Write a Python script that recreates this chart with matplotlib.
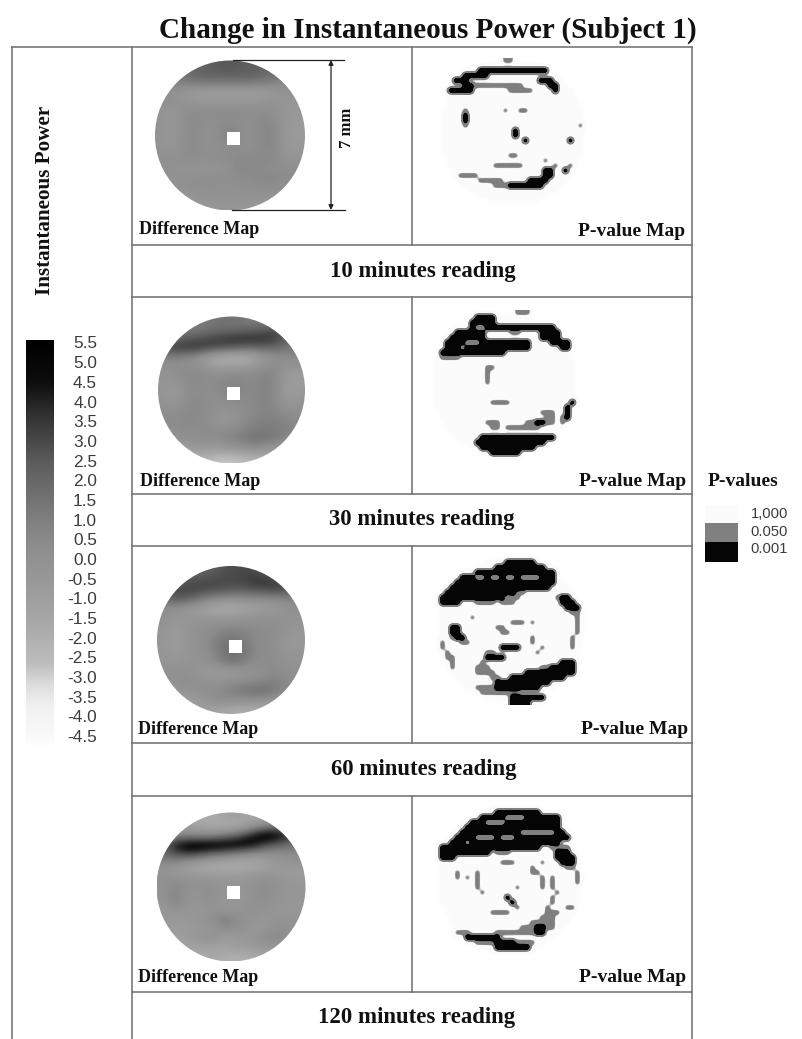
import numpy as np
import matplotlib
matplotlib.use("Agg")
import matplotlib.pyplot as plt
from matplotlib.colors import LinearSegmentedColormap
from matplotlib.patches import Circle, Rectangle

# ---------- data ----------
TITLE = "Change in Instantaneous Power (Subject 1)"
YLABEL = "Instantaneous Power"
READINGS = ["10 minutes reading", "30 minutes reading", "60 minutes reading", "120 minutes reading"]
CBAR_TICKS = ["5.5", "5.0", "4.5", "4.0", "3.5", "3.0", "2.5", "2.0", "1.5", "1.0", "0.5",
              "0.0", "-0.5", "-1.0", "-1.5", "-2.0", "-2.5", "-3.0", "-3.5", "-4.0", "-4.5"]
CBAR_LEVELS = [5.5, 4.5, 3.5, 2.5, 1.5, 0.5, -0.5, -1.5, -2.5, -3.0, -3.5, -4.5]
CBAR_GRAYS = [0.0, 0.05, 0.22, 0.36, 0.46, 0.55, 0.60, 0.66, 0.74, 0.86, 0.94, 0.99]
P_TICKS = ["1,000", "0.050", "0.001"]
P_LEVELS = {".": 1.0, "o": 0.66, "#": 0.0}

DIFF_10 = [
    [2.0, 2.0, 2.0, 2.2, 2.4, 2.6, 2.6, 2.4, 2.2, 2.0, 2.0, 2.0],
    [1.6, 1.6, 1.8, 2.2, 2.4, 2.4, 2.4, 2.4, 2.2, 1.8, 1.4, 1.4],
    [0.6, 0.8, 1.0, 1.2, 1.2, 1.2, 1.2, 1.2, 1.0, 0.8, 0.6, 0.6],
    [0.3, 0.0, -0.5, -0.8, -1.0, -1.0, -1.0, -1.0, -0.8, -0.5, 0.0, 0.0],
    [0.3, 0.2, 0.0, -0.3, -0.3, -0.3, -0.3, -0.3, -0.2, 0.0, -0.3, -0.3],
    [0.0, -0.4, 0.4, 0.4, 0.5, 0.5, 0.5, 0.4, 0.4, 0.4, -0.4, -0.4],
    [0.0, -0.4, 0.5, 0.5, 0.2, 0.4, 0.4, 0.2, 0.6, 0.6, -0.5, -0.5],
    [0.0, -0.4, 0.5, 0.4, 0.0, 0.8, 0.8, 0.0, 0.7, 0.8, -0.5, -0.6],
    [0.0, -0.4, 0.5, 0.4, 0.0, 0.8, 0.8, 0.0, 0.7, 0.8, -0.5, -0.6],
    [0.0, -0.2, 0.5, 0.4, 0.2, 0.3, 0.4, 0.2, 0.6, 0.8, -0.4, -0.3],
    [0.2, 0.2, 0.4, 0.3, 0.4, 0.4, 0.6, 0.7, 0.6, 0.6, -0.2, -0.2],
    [0.2, 0.0, -0.1, -0.2, -0.2, -0.2, 0.7, 0.7, 0.5, 0.4, 0.4, 0.3],
    [0.2, 0.1, 0.2, 0.3, 0.3, 0.3, 0.4, 0.5, 0.6, 0.6, 0.5, 0.3],
    [-0.3, 0.0, 0.2, 0.3, 0.3, 0.2, 0.2, 0.3, 0.5, 0.5, 0.3, 0.0],
    [-0.5, -0.5, -0.2, 0.0, 0.1, 0.1, 0.1, 0.1, 0.1, 0.0, -0.3, -0.5],
    [-0.7, -0.7, -0.6, -0.4, -0.3, -0.2, -0.2, -0.3, -0.4, -0.6, -0.7, -0.7],
]
DIFF_30 = [
    [1.0, 1.0, 1.0, 1.2, 1.4, 1.6, 1.5, 1.2, 1.0, 1.0, 1.0, 1.0],
    [1.2, 1.2, 1.2, 1.4, 1.8, 1.9, 2.0, 2.2, 2.5, 3.0, 2.0, 1.2],
    [2.0, 2.2, 2.6, 3.0, 3.2, 3.6, 3.8, 3.8, 3.8, 3.4, 2.5, 1.5],
    [3.0, 3.4, 3.6, 3.4, 3.0, 2.6, 2.2, 2.0, 2.0, 2.0, 1.5, 1.0],
    [0.8, 0.8, 0.6, -0.2, -1.6, -2.0, -2.0, -1.8, -0.6, 0.2, 0.4, 0.5],
    [0.2, 0.4, 0.2, 0.2, -0.6, -0.8, -0.8, -0.4, 0.2, 0.6, 0.0, 0.0],
    [0.0, 0.2, 0.6, 0.6, 0.4, 0.6, 0.8, 0.6, 0.8, 0.8, -0.6, -0.8],
    [-0.2, -0.4, 0.6, 0.4, 0.4, 0.8, 0.8, 0.6, 0.8, 0.8, -0.8, -0.6],
    [-0.2, -0.6, 0.6, 0.4, 0.2, 0.8, 0.8, 0.6, 0.8, 0.8, -0.8, -0.5],
    [0.0, -0.2, 0.6, 0.6, 0.2, 0.4, 0.4, 0.6, 0.8, 0.8, -0.4, 0.0],
    [0.3, 0.4, 0.6, 0.6, 0.3, -0.2, 0.2, 0.6, 0.8, 0.8, 0.5, 0.3],
    [0.5, 0.5, 0.6, 0.4, 0.1, -0.5, 0.2, 0.7, 1.0, 1.0, 0.8, 0.6],
    [0.2, 0.4, 0.5, 0.5, 0.5, 0.5, 0.8, 1.2, 1.3, 1.3, 1.0, 0.6],
    [-0.3, -0.1, 0.2, 0.2, 0.3, 0.6, 1.0, 1.4, 1.5, 1.2, 0.6, 0.0],
    [-1.0, -1.0, -0.8, -0.6, -0.8, -0.6, -0.2, 0.2, 0.0, -0.4, -0.8, -1.0],
    [-2.5, -2.5, -2.0, -2.0, -2.4, -2.8, -2.6, -2.2, -2.0, -2.0, -2.5, -2.5],
]
DIFF_60 = [
    [2.0, 2.0, 2.0, 2.2, 2.4, 2.8, 3.0, 3.0, 2.6, 2.0, 2.0, 2.0],
    [2.4, 2.4, 2.6, 2.8, 3.0, 3.0, 3.0, 3.4, 3.6, 3.2, 2.4, 2.0],
    [2.8, 3.0, 3.2, 3.2, 3.0, 2.8, 2.6, 2.8, 3.0, 3.4, 3.0, 2.4],
    [2.0, 2.6, 2.4, 1.6, 0.8, 0.4, 0.4, 0.6, 0.6, 0.6, 0.8, 1.0],
    [0.4, 0.4, -0.2, -0.8, -1.4, -1.6, -1.6, -1.2, -0.8, -0.6, 0.0, 0.2],
    [0.2, -0.2, -0.4, -0.4, -0.6, -0.5, -0.4, -0.2, 0.0, 0.0, 0.0, 0.0],
    [0.0, -0.6, -0.2, 0.2, 0.4, 0.6, 0.6, 0.6, 0.4, 0.4, 0.0, -0.2],
    [-0.2, -0.8, -0.2, 0.2, 0.6, 1.2, 1.2, 0.8, 0.4, 0.4, -0.2, -0.4],
    [-0.2, -0.8, -0.2, 0.2, 0.8, 1.6, 1.6, 1.0, 0.4, 0.4, -0.4, -0.4],
    [-0.2, -0.6, -0.2, 0.0, 0.6, 1.6, 1.8, 1.0, 0.4, 0.4, -0.2, -0.2],
    [0.0, -0.3, 0.0, 0.0, 0.2, 1.2, 1.4, 0.6, 0.4, 0.4, 0.0, 0.0],
    [0.2, 0.2, 0.2, -0.4, -0.6, -0.8, -0.6, -0.2, 0.2, 0.6, 0.4, 0.2],
    [-0.2, 0.2, 0.4, 0.2, 0.0, 0.2, 0.4, 0.6, 0.8, 1.0, 0.6, 0.2],
    [-0.6, -0.2, 0.0, 0.2, 0.4, 0.8, 1.2, 1.6, 1.8, 1.4, 0.6, 0.0],
    [-1.0, -1.0, -0.8, -0.4, 0.2, 0.4, 0.4, 0.4, 0.2, 0.0, -0.6, -1.0],
    [-1.6, -1.6, -1.2, -1.0, -1.0, -1.4, -1.8, -1.8, -1.6, -1.6, -1.6, -1.6],
]
DIFF_120 = [
    [-1.5, -1.5, -1.5, -1.5, -1.6, -1.0, -0.8, -1.4, -1.5, -1.5, -1.5, -1.5],
    [-1.0, -1.0, -1.0, -1.4, -1.6, -1.8, -1.6, -0.8, 0.8, 1.4, 1.0, 0.0],
    [0.0, 0.5, 0.8, 0.6, 0.8, 1.4, 2.4, 4.2, 5.4, 5.4, 4.2, 1.5],
    [2.0, 4.6, 5.4, 5.5, 5.5, 5.5, 5.4, 5.0, 3.6, 2.4, 2.0, 1.4],
    [2.0, 2.8, 3.4, 3.0, 2.2, 1.6, 0.8, 0.4, 0.0, 0.2, 0.4, 0.4],
    [0.5, 0.4, -0.6, -1.2, -1.6, -1.8, -1.8, -1.6, -1.2, -0.6, -0.2, 0.0],
    [-0.2, -0.6, -0.8, -1.0, -1.0, -1.0, -1.0, -0.8, -0.6, -0.4, -0.8, -0.8],
    [0.4, 0.4, 0.4, 0.2, 0.1, 0.0, -0.2, 0.0, 0.4, 0.2, -0.2, -0.4],
    [-0.2, 1.0, -0.2, 0.0, 0.2, -0.4, -0.4, -0.2, 0.6, 0.0, -0.3, -0.2],
    [-0.2, 1.2, -0.2, 0.0, 0.2, -0.2, -0.2, 0.0, 0.2, 0.0, -0.3, -0.4],
    [-0.4, 0.0, -0.2, -0.3, -0.1, -0.4, -0.2, 0.2, 0.0, -0.2, -0.4, -0.4],
    [-0.3, -0.5, -0.4, -0.2, 0.2, 1.6, 0.2, 0.0, -0.2, -0.2, 0.0, 0.0],
    [-0.4, -0.8, -0.6, -0.4, -0.2, 0.4, 0.4, -0.4, -0.6, 0.2, 0.2, 0.0],
    [-0.8, -1.0, -0.6, -0.2, 0.2, -0.8, -0.6, -0.4, 0.4, 0.8, 0.4, -0.2],
    [-1.2, -1.4, -1.2, -1.0, -1.2, -1.0, -0.6, -0.6, -0.2, -0.4, -0.8, -1.0],
    [-1.4, -1.4, -1.6, -1.6, -1.4, -1.8, -2.0, -1.8, -1.4, -1.4, -1.4, -1.4],
]

PVAL_10 = [
    ".............oo", "",
    "........##############",
    ".....#####",
    "...###..............###",
    ".....##oooooooooo.....##",
    "..#####.......ooooo....#",
    "", "", "",
    ".....o.......o..oo",
    ".....#", ".....#",
    ".....o......................o",
    "...............#", "...............#",
    ".................#........#",
    "", "",
    "..............oo",
    ".....................o",
    "...........oooooo......o..o",
    ".....................##..#",
    "....oooo.............##",
    "........ooooo.....####",
    "...........ooo#######",
    "", "", "", "",
]
PVAL_30 = [
    ".................ooo",
    ".........####",
    "........#####",
    "........#..##############",
    ".....######.....oo....####",
    "....#######...........####",
    "...####...##########....####",
    "...###.#############......##",
    "..#############",
    "..oooo",
    "",
    "...........oo", "...........o.", "...........o.", "...........o",
    "", "", "",
    "............oooo............#",
    "...........................#",
    "......................ooo..#",
    ".......................oo.o#",
    "...........ooo.....oo##oo.o",
    "............oo.ooooooo",
    "",
    "..........###############",
    ".........##############",
    "..........###########",
    "............######",
    "",
]
PVAL_60 = [
    "",
    "..............######",
    "............##########",
    "........################",
    ".....###..#..#..#....###",
    "....####################",
    "...####################",
    "..##############oo",
    ".#############.oo.......o##",
    ".####...oooo.ooo.........###",
    "..........................###",
    "...........................oo",
    ".......o....................o",
    "...............ooo.o........o",
    "...##.......oo..............o",
    "...##........oo.............o",
    "...o##.............o.......o",
    ".o...oo............o.......o",
    ".o...........####....o.....o",
    "..o.......oo........o",
    "..oo......####",
    "...o.....o...............###",
    "...o....ooo..........oo#####",
    "........oooo......##########",
    "...........oo..###########",
    "............###########",
    "........oooo#########",
    ".........oooooooo",
    "...............#######",
    "...............####",
]
PVAL_120 = [
    "",
    "............#########",
    ".........#####....#######",
    ".......###....###########",
    "......###################",
    ".....############.......##",
    "....####....#...###########",
    "...###.##################",
    ".####################..oooo",
    ".##########.ooo.........###",
    ".###....................####",
    ".............ooo.....o...###",
    "...................o......oo",
    "....o...o..........oo.......o",
    "....o.o.o............o.o....o",
    "........o............o.o....o",
    "........o.......o....o.o",
    ".........o..............o",
    "..............#........o",
    "...............#.......o",
    "................o.....o...oo",
    "...........oooo.......ooo",
    ".....................ooo",
    "...................ooooo",
    ".................ooo##oo",
    "....ooo.....oooooooo##",
    "......#######",
    "........oooo####oooo",
    "............#######",
    "",
]

# ---------- layout (reference pixels) ----------
W, H = 802, 1039
LINE = "#6e6e6e"
SERIF = "Liberation Serif"
SANS = "Liberation Sans"
DIFF_GEOM = [(230, 135.5, 75, 233, 138), (231.5, 390, 73.5, 233.5, 393),
             (231, 640, 74, 235, 646), (231, 887, 74.5, 233, 892)]
PVAL_BOX = [(438, 58), (430, 310), (435, 555), (435, 805)]
DIFF_LABEL = [(139, 229), (140, 481), (138, 729), (138, 978)]
PVAL_LABEL = [(685, 231), (686, 481), (688, 730), (686, 978)]
READ_LABEL = [(423, 271), (422, 520), (424, 770), (417, 1017)]
H_RULES = [245, 297, 494, 546, 743, 796, 992]
V_SPANS = [(47, 245), (297, 494), (546, 743), (796, 992)]

fig = plt.figure(figsize=(W / 100, H / 100), dpi=100, facecolor="white")
ax = fig.add_axes([0, 0, 1, 1])
ax.set_xlim(0, W)
ax.set_ylim(H, 0)
ax.axis("off")

cmap = LinearSegmentedColormap.from_list(
    "power",
    [((l - CBAR_LEVELS[-1]) / (CBAR_LEVELS[0] - CBAR_LEVELS[-1]), (g, g, g))
     for l, g in sorted(zip(CBAR_LEVELS, CBAR_GRAYS))],
)
# steep steps: the smoothed p-values fall into the three legend classes
pcmap = LinearSegmentedColormap.from_list(
    "pclasses",
    [(0.0, (0.02,) * 3), (0.46, (0.02,) * 3), (0.54, (0.5,) * 3), (0.78, (0.5,) * 3),
     (0.86, (0.985,) * 3), (0.985, (0.985,) * 3), (1.0, (1.0,) * 3)],
    N=512,
)

# difference maps
for grid, (cx, cy, r, sx, sy) in zip([DIFF_10, DIFF_30, DIFF_60, DIFF_120], DIFF_GEOM):
    im = ax.imshow(np.array(grid), cmap=cmap, vmin=CBAR_LEVELS[-1], vmax=CBAR_LEVELS[0],
                   extent=(cx - r, cx + r, cy + r, cy - r), interpolation="bicubic",
                   aspect="auto", zorder=2)
    im.set_clip_path(Circle((cx, cy), r, transform=ax.transData))
    ax.add_patch(Rectangle((sx - 6.5, sy - 6.5), 13, 13, fc="white", ec="none", zorder=3))

# p-value maps
for rows, (bx, by) in zip([PVAL_10, PVAL_30, PVAL_60, PVAL_120], PVAL_BOX):
    z = np.array([[P_LEVELS[c] for c in row.ljust(30, ".")] for row in rows])
    yy, xx = np.mgrid[0:30, 0:30]
    disk = (xx - 14.5) ** 2 + (yy - 14.5) ** 2 <= 14.5 ** 2
    z[(z == 1.0) & disk] = 0.98
    ax.imshow(z, cmap=pcmap, vmin=0, vmax=1, extent=(bx, bx + 150, by + 150, by),
              interpolation="gaussian", interpolation_stage="data", aspect="auto", zorder=2)

ax.set_xlim(0, W)
ax.set_ylim(H, 0)

# table rules
lw = 1.1
ax.plot([12, 692], [47, 47], color=LINE, lw=lw, zorder=4)
for x in (12, 132, 692):
    ax.plot([x, x], [47, H], color=LINE, lw=lw, zorder=4)
for y in H_RULES:
    ax.plot([132, 692], [y, y], color=LINE, lw=lw, zorder=4)
for y0, y1 in V_SPANS:
    ax.plot([412, 412], [y0, y1], color=LINE, lw=lw, zorder=4)

# 7 mm dimension
ax.plot([233, 344], [60, 60], color="#222222", lw=0.9, zorder=4)
ax.plot([232, 345], [210, 210], color="#222222", lw=0.9, zorder=4)
ax.annotate("", xy=(331, 60), xytext=(331, 210), zorder=4,
            arrowprops=dict(arrowstyle="<|-|>", color="#222222", lw=0.9, mutation_scale=7,
                            shrinkA=0, shrinkB=0))
ax.text(347, 128, "7 mm", rotation=90, ha="center", va="center", family=SERIF,
        weight="bold", fontsize=12, color="#111111")

# colour bar
bar = np.linspace(CBAR_LEVELS[0], CBAR_LEVELS[-1], 256)[:, None]
ax.imshow(bar, cmap=cmap, vmin=CBAR_LEVELS[-1], vmax=CBAR_LEVELS[0],
          extent=(26, 54, 745, 340), aspect="auto", zorder=2)
ax.set_xlim(0, W)
ax.set_ylim(H, 0)
for i, t in enumerate(CBAR_TICKS):
    ax.text(97, 344 + i * 19.67, t, ha="right", va="center", family=SANS,
            fontsize=12.4, color="#3c3c3c")

# p-value legend
for (y0, y1), g in zip([(505, 523), (523, 542), (542, 562)], [0.985, 0.5, 0.02]):
    ax.add_patch(Rectangle((705, y0), 33, y1 - y0, fc=(g, g, g), ec="none", zorder=2))
for y, t in zip([514, 532, 549], P_TICKS):
    ax.text(788, y, t, ha="right", va="center", family=SANS, fontsize=10.6, color="#3c3c3c")
ax.text(743, 481, "P-values", ha="center", va="center", family=SERIF, weight="bold",
        fontsize=14, color="#111111")

# texts
ax.text(428, 30, TITLE, ha="center", va="center", family=SERIF, weight="bold",
        fontsize=21, color="#111111")
ax.text(45, 200, YLABEL, rotation=90, ha="center", va="center", family=SERIF,
        weight="bold", fontsize=15.2, color="#111111")
for (x, y) in DIFF_LABEL:
    ax.text(x, y, "Difference Map", ha="left", va="center", family=SERIF, weight="bold",
            fontsize=13, color="#111111")
for (x, y) in PVAL_LABEL:
    ax.text(x, y, "P-value Map", ha="right", va="center", family=SERIF, weight="bold",
            fontsize=14, color="#111111")
for (x, y), t in zip(READ_LABEL, READINGS):
    ax.text(x, y, t, ha="center", va="center", family=SERIF, weight="bold",
            fontsize=16.4, color="#111111")

fig.savefig("out.png", dpi=100, facecolor="white")
